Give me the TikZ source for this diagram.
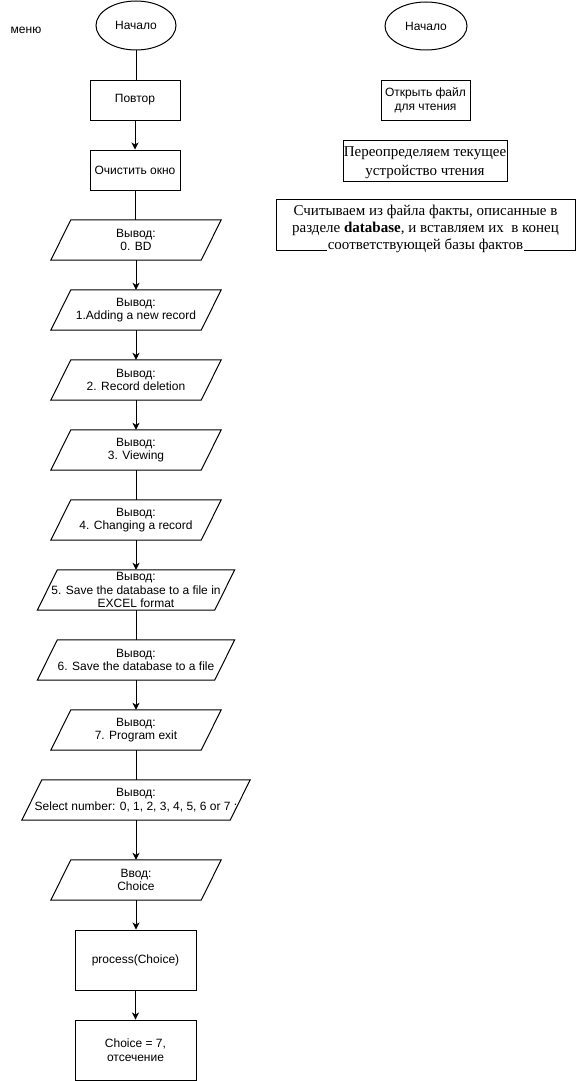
\documentclass[tikz,border=0pt]{standalone}
\usepackage{fontspec}
\setmainfont{Liberation Sans}
\newfontfamily\seriffont{Liberation Serif}
\usetikzlibrary{arrows.meta,shapes.geometric}
\begin{document}
\begin{tikzpicture}[x=1pt,y=-1pt,
  every node/.style={font=\fontsize{12}{13.5}\selectfont, align=center, inner sep=0pt},
  ln/.style={line width=1pt},
  arr/.style={line width=1pt, -{Stealth[length=7pt,width=7pt,inset=2pt]}},
  term/.style={draw, line width=1pt, ellipse, minimum width=80pt, minimum height=49pt},
  procbox/.style={draw, line width=1pt, rectangle, minimum width=90pt, minimum height=40pt},
  iobox/.style={rectangle, minimum width=150pt, minimum height=40pt},
  sertext/.style={font=\seriffont\fontsize{15}{17}\selectfont}
]
\useasboundingbox (0,0) rectangle (576,1081);

% left flow
\node (menu) at (26,30) {меню};
\node[term] (start) at (136,25.5) {Начало};
\node[procbox] (povtor) at (135,100) {Повтор};
\node[procbox] (clear) at (135,170) {Очистить окно};
\node[iobox] (v0) at (136,240) {Вывод:\\0. BD};
\node[iobox] (v1) at (136,310) {Вывод:\\1.Adding a new record};
\node[iobox] (v2) at (136,380) {Вывод:\\2. Record deletion};
\node[iobox] (v3) at (136,450) {Вывод:\\3. Viewing};
\node[iobox] (v4) at (136,520) {Вывод:\\4. Changing a record};
\node[iobox, minimum width=177pt] (v5) at (136,590) {Вывод:\\5. Save the database to a file in\\EXCEL format};
\node[iobox, minimum width=177pt] (v6) at (136,660) {Вывод:\\6. Save the database to a file};
\node[iobox] (v7) at (136,730) {Вывод:\\7. Program exit};
\node[iobox, minimum width=208pt] (sel) at (136,800) {Вывод:\\Select number: 0, 1, 2, 3, 4, 5, 6 or 7 :};
\node[iobox] (inp) at (136,880) {Ввод:\\Choice};
\node[procbox, minimum width=121pt, minimum height=60pt] (proc) at (135.5,960) {process(Choice)};
\node[procbox, minimum width=121pt, minimum height=60pt] (ch7) at (135.5,1050) {Choice = 7,\\отсечение};

\foreach \n in {v0,v1,v2,v3,v4,v5,v6,v7,sel,inp}
  \draw[ln] ([xshift=10pt]\n.north west) -- ([xshift=10pt]\n.north east)
    -- ([xshift=-10pt]\n.south east) -- ([xshift=-10pt]\n.south west) -- cycle;

\draw[ln]  (start.south) -- (start.south |- povtor.north);
\draw[arr] (povtor.south) -- (povtor.south |- clear.north);
\draw[ln]  (clear.south) -- (clear.south |- v0.north);
\draw[arr] (v0.south) -- (v1.north);
\draw[arr] (v1.south) -- (v2.north);
\draw[arr] (v2.south) -- (v3.north);
\draw[ln]  (v3.south) -- (v4.north);
\draw[arr] (v4.south) -- (v5.north);
\draw[ln]  (v5.south) -- (v6.north);
\draw[arr] (v6.south) -- (v7.north);
\draw[ln]  (v7.south) -- (sel.north);
\draw[arr] (sel.south) -- (inp.north);
\draw[arr] (inp.south) -- (inp.south |- proc.north);
\draw[arr] (proc.south) -- (ch7.north);

% right column
\node[term, minimum width=82pt, minimum height=48pt] (rstart) at (426,26) {Начало};
\node[procbox, minimum width=89pt] (open) at (425.5,100) {Открыть файл\\для чтения};
\node[draw, line width=1pt, rectangle, minimum width=164pt, minimum height=41pt] (redef) at (425,160.5) {};
\node[sertext, font=\seriffont\fontsize{15}{18.5}\selectfont] (redeftxt) at ([yshift=-2pt]redef.center) {Переопределяем текущее\\устройство чтения};
\node[draw, line width=1pt, rectangle, minimum width=299pt, minimum height=51pt] (read) at (425.5,224.5) {};
\node[sertext] (readtxt) at ([yshift=-4.5pt]read.center) {Считываем из файла факты, описанные в\\разделе \textbf{database}, и вставляем их\ \ в конец\\{\setlength{\fboxsep}{1pt}\colorbox{white}{соответствующей базы фактов}}};
\end{tikzpicture}
\end{document}
